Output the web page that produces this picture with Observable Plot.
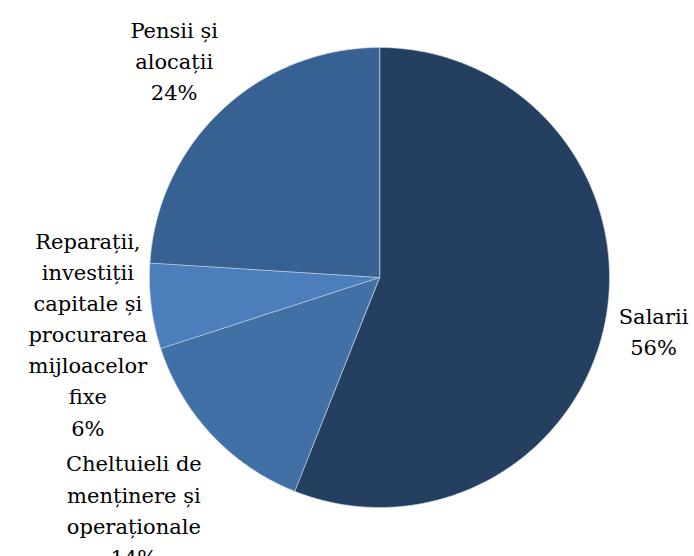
<!DOCTYPE html>
<html>
<head>
<meta charset="utf-8">
<script src="https://cdn.jsdelivr.net/npm/d3@7"></script>
<script src="https://cdn.jsdelivr.net/npm/@observablehq/plot@0.6"></script>
<style>
  html, body { margin: 0; padding: 0; background: #fff; }
</style>
</head>
<body>
<div id="chart"></div>
<script>
// ---- data ----
const categories = [
  "Salarii",
  "Cheltuieli de\nmenținere și\noperaționale",
  "Reparații,\ninvestiții\ncapitale și\nprocurarea\nmijloacelor\nfixe",
  "Pensii și\nalocații"
];
const values = [56, 14, 6, 24];
const percentLabels = ["56%", "14%", "6%", "24%"];

// ---- styling / layout (not data) ----
const colors = ["#253f61", "#4170a6", "#4b7ebb", "#386193"];
const labelRadius = [1.213, 1.465, 1.278, 1.304];
const labelShiftY = [0, 0, 18, 0];

const pie = d3.pie().sort(null).value(d => d)(values);
const slices = [];
pie.forEach((a, i) => {
  const steps = Math.max(8, Math.ceil((a.endAngle - a.startAngle) / 0.01));
  slices.push({k: i, x: 0, y: 0, fill: colors[i]});
  for (let s = 0; s <= steps; s++) {
    const t = a.startAngle + (a.endAngle - a.startAngle) * s / steps;
    slices.push({k: i, x: Math.sin(t), y: Math.cos(t), fill: colors[i]});
  }
});
const labels = pie.map((a, i) => {
  const m = (a.startAngle + a.endAngle) / 2;
  return {
    x: labelRadius[i] * Math.sin(m),
    y: labelRadius[i] * Math.cos(m),
    dy: labelShiftY[i],
    text: categories[i] + "\n" + percentLabels[i]
  };
});

const chart = Plot.plot({
  width: 694,
  height: 556,
  margin: 0,
  x: {domain: [-1, 1], range: [149, 609], axis: null},
  y: {domain: [-1, 1], range: [507, 47], axis: null},
  color: {type: "identity"},
  style: {background: "#fff"},
  marks: [
    Plot.line(slices, {
      x: "x", y: "y", z: "k", fill: "fill",
      stroke: "#c9d6e8", strokeWidth: 0.8, strokeOpacity: 0.8,
      curve: "linear-closed"
    }),
    labels.map(l => Plot.text([l], {
      x: "x", y: "y", text: "text", dy: l.dy,
      fontSize: 21, fontFamily: "DejaVu Serif",
      lineHeight: 1.48, lineAnchor: "middle", textAnchor: "middle",
      fill: "#000"
    }))
  ]
});
document.getElementById("chart").appendChild(chart);
</script>
</body>
</html>
